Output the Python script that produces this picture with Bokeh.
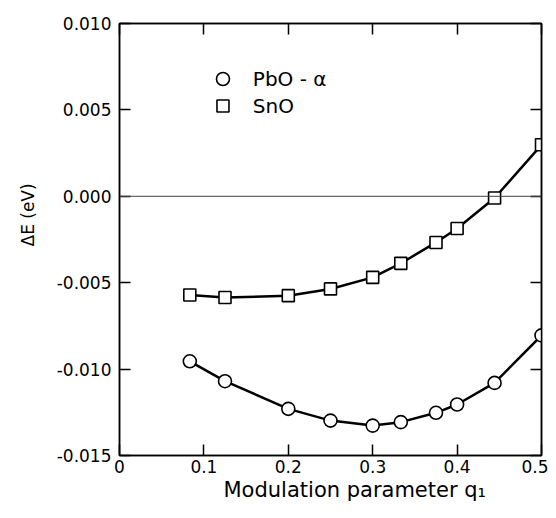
from bokeh.plotting import figure
from bokeh.models import (Range1d, FixedTicker, LinearAxis, NumeralTickFormatter,
                          Span, Title)
from bokeh.embed import file_html
from bokeh.resources import INLINE
from bokeh.core.properties import value

# ---- data ----
q1 = [0.0833, 0.125, 0.2, 0.25, 0.3, 0.3333, 0.375, 0.4, 0.4444, 0.5]
sno_dE = [-0.00571, -0.00586, -0.00575, -0.00536, -0.00469, -0.00388,
          -0.00267, -0.00186, -0.00010, 0.00298]
pbo_dE = [-0.00955, -0.0107, -0.0123, -0.01298, -0.01327, -0.01307,
          -0.01253, -0.01205, -0.0108, -0.00805]
series_names = ["PbO - α", "SnO"]
x_ticks = [0, 0.1, 0.2, 0.3, 0.4, 0.5]
y_ticks = [-0.015, -0.010, -0.005, 0.0, 0.005, 0.010]
x_label = "Modulation parameter q₁"
y_label = "ΔE (eV)"

FONT = "DejaVu Sans"

p = figure(width=548, height=510, output_backend="svg", toolbar_location=None,
           x_range=Range1d(0, 0.5), y_range=Range1d(-0.015, 0.010),
           min_border_left=118, min_border_right=7, min_border_top=23,
           min_border_bottom=55, x_axis_location=None, y_axis_location=None)
p.grid.visible = False
p.outline_line_color = "black"
p.outline_line_width = 1.5
p.background_fill_color = "white"
p.border_fill_color = "white"


def style_axis(ax, ticks, show_labels, standoff):
    ax.ticker = FixedTicker(ticks=ticks)
    ax.minor_tick_line_color = None
    ax.major_tick_in = 11
    ax.major_tick_out = 0
    ax.major_tick_line_width = 1.5
    ax.major_tick_line_color = "black"
    ax.axis_line_color = "black"
    ax.axis_line_width = 1.5
    ax.major_label_text_font = FONT
    ax.major_label_text_color = "black"
    ax.major_label_text_font_size = "17px"
    ax.major_label_standoff = standoff
    if not show_labels:
        ax.major_label_overrides = {t: "" for t in ticks}


bottom = LinearAxis()
style_axis(bottom, x_ticks, True, 4)
p.add_layout(bottom, "below")

top = LinearAxis()
style_axis(top, x_ticks, False, 0)
p.add_layout(top, "above")

left = LinearAxis(formatter=NumeralTickFormatter(format="0.000"))
style_axis(left, y_ticks, True, 8)
p.add_layout(left, "left")

right = LinearAxis()
style_axis(right, y_ticks, False, 0)
p.add_layout(right, "right")

# axis titles (as titles so they can be offset like the reference)
p.add_layout(Title(text=x_label, align="left", offset=104, standoff=0,
                   text_font=FONT, text_font_size="21px",
                   text_font_style="normal", text_color="black"), "below")
p.add_layout(Title(text=y_label, align="left", offset=209, standoff=31,
                   text_font=FONT, text_font_size="17px",
                   text_font_style="normal", text_color="black"), "left")

# zero line
p.add_layout(Span(location=0, dimension="width", line_color="#444444", line_width=1))

# curves
p.line(q1, sno_dE, line_color="black", line_width=2.5)
p.line(q1, pbo_dE, line_color="black", line_width=2.5)

# markers
p.scatter(q1, pbo_dE, marker="circle", size=13, fill_color="white",
          line_color="black", line_width=1.6)
p.scatter(q1, sno_dE, marker="square", size=12, fill_color="white",
          line_color="black", line_width=1.6)

# legend (manual, inside frame)
p.scatter([0.1226], [0.00679], marker="circle", size=13, fill_color="white",
          line_color="black", line_width=1.6)
p.scatter([0.1226], [0.00523], marker="square", size=12, fill_color="white",
          line_color="black", line_width=1.6)
p.text(x=[0.158, 0.158], y=[0.00679, 0.00523], text=series_names,
       text_font=value(FONT), text_font_size="20px", text_baseline="middle",
       text_align="left", text_color="black")

open("out.html", "w").write(file_html(p, INLINE))
